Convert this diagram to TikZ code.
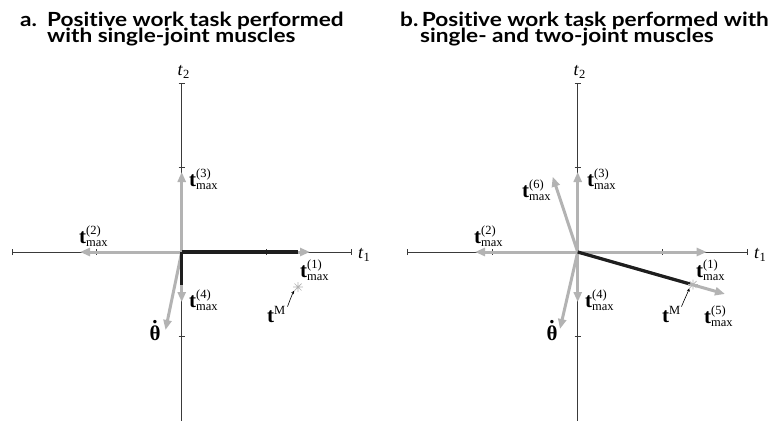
\documentclass[tikz,border=0pt]{standalone}
\usepackage{fontspec}
\setmainfont{Liberation Serif}
\newfontfamily\ttlfont[FakeStretch=1.16,Ligatures=NoCommon]{Lato}
\usetikzlibrary{arrows.meta}
\definecolor{vg}{HTML}{B3B3B3}
\definecolor{axc}{HTML}{3A3A3A}
\definecolor{blk}{HTML}{1E1E1E}
\newcommand\bt{\textbf{t}}
\newcommand\scr{\fontsize{12.5}{13}\selectfont}
\newcommand\tmx[1]{\bt\rlap{\raisebox{8.5pt}{\scr(#1)}}\raisebox{-3.5pt}{\scr max}}
\newcommand\tMlab{\bt\raisebox{8pt}{\scr M}}
\newcommand\thd{\textbf{\ooalign{θ\cr\hidewidth\raisebox{0.78em}{.}\hidewidth\cr}}}
\newcommand\axl[1]{\textit{t}\raisebox{-3.5pt}{\scr #1}}
\tikzset{
  axis/.style={draw=axc, line width=0.8pt},
  vec/.style={draw=vg, line width=3pt, -{Triangle[length=10pt,width=8pt]}},
  comp/.style={draw=blk, line width=3.2pt},
  lbl/.style={inner sep=0pt, anchor=base west, font=\fontsize{21}{21}\selectfont},
  axlbl/.style={inner sep=0pt, anchor=base west, font=\fontsize{18}{18}\selectfont},
  ttlnode/.style={inner sep=0pt, anchor=base west, font=\ttlfont\bfseries\fontsize{19.5}{19.5}\selectfont},
  starn/.style={circle, minimum size=10pt, inner sep=0pt,
    path picture={\draw[vg, line width=0.7pt]
      (path picture bounding box.north) -- (path picture bounding box.south)
      (path picture bounding box.east) -- (path picture bounding box.west)
      (path picture bounding box.north east) -- (path picture bounding box.south west)
      (path picture bounding box.north west) -- (path picture bounding box.south east);}},
  tmarr/.style={draw=black, line width=0.6pt, -{Stealth[length=3.5pt,width=3pt]}}
}
\begin{document}
\begin{tikzpicture}[x=1pt,y=-1pt]
\useasboundingbox (0,0) rectangle (769,421);
% titles
\node[ttlnode] (ta1) at (20,26) {a.};
\node[ttlnode] (ta2) at (47,26) {Positive work task performed};
\node[ttlnode] (ta3) at (47,42.5) {with single-joint muscles};
\node[ttlnode] (tb1) at (400,26) {b.};
\node[ttlnode] (tb2) at (421.7,26) {Positive work task performed with};
\node[ttlnode] (tb3) at (420,42.5) {single- and two-joint muscles};

% ---------- panel a ----------
\coordinate (Oa) at (181.7,252);
\coordinate (hLa) at (11.7,252);
\coordinate (hRa) at (351.7,252);
\coordinate (vTa) at (181.7,82.7);
\coordinate (vBa) at (181.7,421);
\draw[axis, {Bar[width=6pt]}-{Bar[width=6pt]}] (hLa) -- (hRa);
\draw[axis, {Bar[width=6pt]}-] (vTa) -- (vBa);
\foreach \x in {96.7,266.7} \draw[axis] (\x,249) -- (\x,255);
\foreach \y in {167.3,336.7} \draw[axis] (178.7,\y) -- (184.7,\y);
\node[axlbl] (t2a) at (177.5,75) {\axl{2}};
\node[axlbl] (t1a) at (358,258) {\axl{1}};

\coordinate (a3) at (181.7,172);
\coordinate (a2) at (80,252);
\coordinate (a1) at (310,252);
\coordinate (a4) at (181.7,302);
\coordinate (ath) at (165.5,330);
\draw[vec] (Oa) -- (a3);
\draw[vec] (Oa) -- (a2);
\draw[vec] (Oa) -- (a1);
\draw[vec] (Oa) -- (a4);
\draw[vec] (Oa) -- (ath);
\coordinate (ca1) at (298,252);
\coordinate (ca2) at (181.7,285);
\draw[comp] (Oa) -- (ca1);
\draw[comp] (Oa) -- (ca2);
\node[starn] (sa) at (298,287) {};

\node[lbl] (la3) at (189,186) {\tmx{3}};
\node[lbl] (la2) at (79,243) {\tmx{2}};
\node[lbl] (la1) at (300,277) {\tmx{1}};
\node[lbl] (la4) at (189,307) {\tmx{4}};
\node[lbl, anchor=base] (lta) at (155,340) {\thd};
\node[lbl] (lMa) at (267,322) {\tMlab};
\draw[tmarr] ([xshift=2pt,yshift=-1pt]lMa.north east) .. controls +(1.5,-4) and +(-2,3) .. (sa.south west);

% ---------- panel b ----------
\coordinate (Ob) at (577.7,252);
\coordinate (hLb) at (407.3,252);
\coordinate (hRb) at (747.7,252);
\coordinate (vTb) at (577.7,82.7);
\coordinate (vBb) at (577.7,421);
\draw[axis, {Bar[width=6pt]}-{Bar[width=6pt]}] (hLb) -- (hRb);
\draw[axis, {Bar[width=6pt]}-] (vTb) -- (vBb);
\foreach \x in {492.3,662.7} \draw[axis] (\x,249) -- (\x,255);
\foreach \y in {167.3,336.7} \draw[axis] (574.7,\y) -- (580.7,\y);
\node[axlbl] (t2b) at (573.5,75) {\axl{2}};
\node[axlbl] (t1b) at (754,258) {\axl{1}};

\coordinate (b3) at (577.7,172);
\coordinate (b6) at (552.7,176.7);
\coordinate (b2) at (475,252);
\coordinate (b1) at (706.7,252);
\coordinate (b4) at (577.7,302);
\coordinate (bth) at (560,329);
\coordinate (b5) at (725,294);
\draw[vec] (Ob) -- (b3);
\draw[vec] (Ob) -- (b6);
\draw[vec] (Ob) -- (b2);
\draw[vec] (Ob) -- (b1);
\draw[vec] (Ob) -- (b4);
\draw[vec] (Ob) -- (bth);
\draw[vec] (Ob) -- (b5);
\coordinate (cb) at (690,284);
\draw[comp] (Ob) -- (cb);
\node[starn] (sb) at (693,284.5) {};

\node[lbl] (lb3) at (587,186) {\tmx{3}};
\node[lbl] (lb6) at (522,197) {\tmx{6}};
\node[lbl] (lb2) at (474,243) {\tmx{2}};
\node[lbl] (lb1) at (696,277) {\tmx{1}};
\node[lbl] (lb4) at (585,307) {\tmx{4}};
\node[lbl, anchor=base] (ltb) at (552,340) {\thd};
\node[lbl] (lMb) at (662,322) {\tMlab};
\node[lbl] (lb5) at (704,323) {\tmx{5}};
\draw[tmarr] ([xshift=1pt,yshift=-1pt]lMb.north east) .. controls +(1.5,-4) and +(-1,3) .. (sb.south west);
\end{tikzpicture}
\end{document}
